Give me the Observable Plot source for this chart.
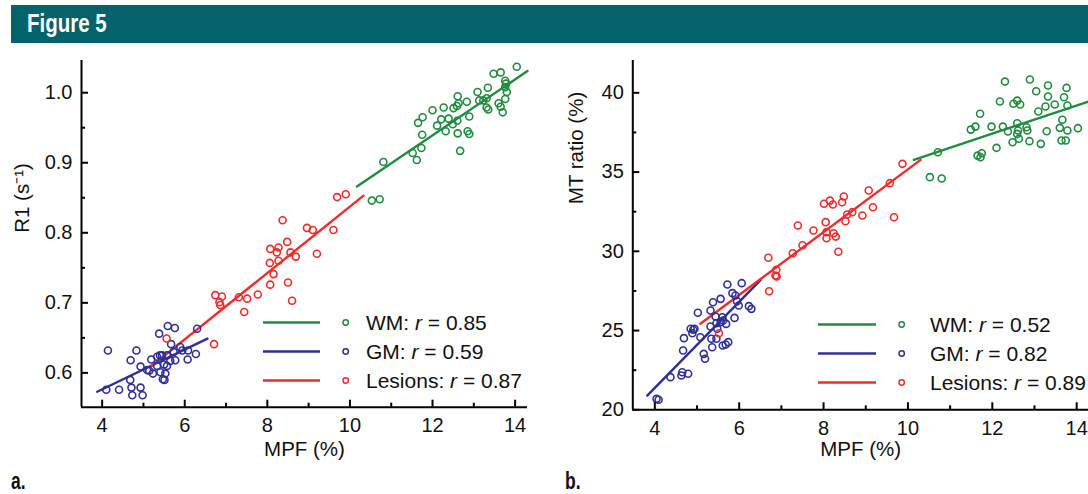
<!DOCTYPE html>
<html><head><meta charset="utf-8">
<script src="https://cdn.jsdelivr.net/npm/d3@7"></script>
<script src="https://cdn.jsdelivr.net/npm/@observablehq/plot@0.6"></script>
<style>
html,body{margin:0;padding:0;background:#fff;}
body{width:1088px;height:494px;overflow:hidden;position:relative;font-family:"Liberation Sans",Arial,sans-serif;}
#bar{position:absolute;left:11px;top:5px;width:1077px;height:38px;background:#03626b;}
#bar span{position:absolute;left:16px;top:6px;color:#fff;font-weight:bold;font-size:25px;line-height:25px;font-family:"Liberation Sans",Arial,sans-serif;transform:scaleX(0.82);transform-origin:0 0;white-space:nowrap;}
.panel{position:absolute;top:50px;}
.plabel{position:absolute;top:470px;font-weight:bold;font-size:23px;line-height:23px;font-family:"Liberation Sans",Arial,sans-serif;transform:scaleX(0.76);transform-origin:0 0;color:#111;}
.row{position:absolute;height:29px;line-height:29px;font-size:21px;white-space:nowrap;color:#111;}
.row svg{position:absolute;left:0;top:0;overflow:visible;}
.row span{position:absolute;top:0;}
</style>
</head><body>
<div id="bar"><span>Figure 5</span></div>
<div id="pa" class="panel" style="left:0px"></div>
<div id="pb" class="panel" style="left:545px"></div>
<div class="plabel" style="left:11px">a.</div>
<div class="plabel" style="left:565px">b.</div>
<script>
// ---------- data ----------
const groups = ["WM", "GM", "Lesions"];
const colors = ["#1f8b3f", "#2f2f99", "#ef2b2b"];
const rA = ["0.85", "0.59", "0.87"];
const rB = ["0.52", "0.82", "0.89"];

// Panel a: MPF (%) vs R1 (s^-1)
const wmR1 = [[10.53,0.846],[10.72,0.848],[10.81,0.901],[11.52,0.914],[11.62,0.904],[11.73,0.921],[11.75,0.940],[11.65,0.957],[11.76,0.965],[12.00,0.975],[12.11,0.953],[12.21,0.962],[12.27,0.979],[12.32,0.945],[12.39,0.963],[12.49,0.955],[12.51,0.978],[12.59,0.981],[12.61,0.995],[12.63,0.985],[12.60,0.960],[12.61,0.942],[12.67,0.917],[12.83,0.987],[12.85,0.945],[12.89,0.941],[12.89,0.966],[13.09,1.001],[13.13,0.989],[13.23,0.989],[13.31,0.992],[13.34,1.007],[13.31,0.979],[13.35,0.976],[13.48,1.027],[13.65,1.029],[13.60,0.985],[13.65,0.980],[13.70,0.972],[13.76,1.017],[13.78,1.013],[13.76,1.008],[13.80,1.001],[13.76,0.991],[14.04,1.037]];
const gmR1 = [[4.14,0.632],[4.10,0.576],[4.41,0.576],[4.69,0.618],[4.83,0.632],[4.68,0.590],[4.71,0.579],[4.93,0.579],[4.73,0.568],[4.98,0.568],[4.93,0.609],[5.09,0.604],[5.19,0.619],[5.14,0.603],[5.23,0.599],[5.38,0.656],[5.59,0.667],[5.76,0.664],[6.30,0.663],[5.33,0.623],[5.45,0.625],[5.33,0.610],[5.41,0.601],[5.53,0.599],[5.47,0.591],[5.51,0.590],[5.57,0.610],[5.65,0.617],[5.67,0.641],[5.73,0.630],[5.77,0.618],[5.89,0.637],[5.94,0.632],[6.08,0.632],[6.07,0.619],[6.27,0.627],[5.57,0.625],[5.50,0.612],[5.40,0.625]];
const lesR1 = [[5.56,0.649],[6.71,0.641],[6.74,0.711],[6.90,0.709],[6.84,0.701],[6.86,0.697],[7.31,0.708],[7.51,0.706],[7.44,0.687],[7.77,0.712],[8.07,0.777],[8.27,0.779],[8.23,0.772],[8.48,0.787],[8.56,0.772],[8.69,0.766],[9.20,0.770],[8.06,0.757],[8.15,0.741],[8.07,0.726],[8.50,0.729],[8.60,0.703],[8.27,0.760],[9.69,0.851],[9.90,0.855],[8.37,0.818],[8.96,0.807],[9.10,0.804],[9.60,0.804]];
const fitR1 = [
  [[10.17,0.866],[14.30,1.031]],
  [[3.88,0.573],[6.55,0.649]],
  [[5.20,0.610],[10.33,0.853]]
];

// Panel b: MPF (%) vs MT ratio (%)
const wmMT = [[10.52,34.68],[10.80,34.59],[10.71,36.25],[11.49,37.68],[11.60,37.87],[11.71,38.68],[11.65,36.04],[11.72,35.94],[11.75,36.19],[11.98,37.87],[12.10,36.53],[12.18,39.45],[12.30,40.71],[12.25,37.87],[12.37,37.56],[12.48,36.88],[12.50,39.31],[12.59,39.51],[12.66,39.26],[12.59,38.08],[12.59,37.41],[12.63,37.10],[12.61,37.62],[12.81,37.83],[12.83,37.62],[12.89,40.84],[12.88,36.95],[13.04,40.10],[13.09,38.82],[13.15,36.78],[13.26,39.14],[13.32,40.46],[13.32,39.77],[13.29,37.58],[13.48,39.26],[13.60,37.79],[13.66,38.30],[13.64,36.99],[13.74,36.99],[13.70,39.72],[13.76,40.31],[13.78,39.20],[13.78,37.62],[14.03,37.77]];
const gmMT = [[4.04,20.69],[4.09,20.63],[4.37,22.06],[4.63,22.16],[4.65,22.37],[4.79,22.27],[4.67,23.74],[4.69,24.52],[4.85,25.11],[4.91,25.05],[4.94,25.11],[4.89,24.83],[5.02,26.12],[5.08,24.58],[5.16,23.53],[5.19,23.22],[5.32,26.27],[5.38,26.79],[5.32,25.26],[5.34,24.48],[5.36,23.95],[5.44,25.89],[5.46,25.46],[5.48,25.11],[5.46,24.48],[5.56,27.00],[5.60,25.84],[5.62,25.63],[5.56,25.53],[5.61,24.06],[5.68,24.12],[5.74,24.27],[5.69,25.42],[5.72,27.91],[5.84,27.36],[5.91,27.21],[5.95,26.85],[5.99,26.58],[5.89,25.80],[6.06,27.99],[6.23,26.54],[6.29,26.37]];
const lesMT = [[5.52,24.83],[6.69,29.59],[6.71,27.48],[6.88,28.83],[6.86,28.47],[6.89,28.41],[7.27,29.88],[7.50,30.38],[7.39,31.63],[7.76,31.31],[8.01,33.00],[8.15,33.20],[8.22,32.95],[8.44,33.10],[8.48,33.46],[8.05,31.84],[8.07,31.21],[8.24,31.14],[8.29,30.93],[8.07,30.83],[8.52,31.90],[8.56,32.32],[8.68,32.47],[8.92,32.26],[9.07,33.84],[9.17,32.78],[9.57,34.30],[9.67,32.15],[9.87,35.52],[8.35,29.97]];
const fitMT = [
  [[10.14,35.77],[14.28,39.45]],
  [[3.82,20.90],[6.51,28.20]],
  [[5.08,25.43],[10.30,35.77]]
];

const xMajor = [4, 6, 8, 10, 12, 14];
const xMinor = [5, 7, 9, 11, 13];
const yMajorA = [0.6, 0.7, 0.8, 0.9, 1.0];
const yMinorA = [0.65, 0.75, 0.85, 0.95];
const yMajorB = [20, 25, 30, 35, 40];
const yMinorB = [22.5, 27.5, 32.5, 37.5];

// ---------- drawing ----------
function panel(o) {
  const H = 420, mt = 10;
  const plotH = H - mt - o.mb;
  const plotW = o.width - o.ml - o.mr;
  const pts = [o.wm, o.gm, o.les];
  const marks = [];
  o.fits.forEach((f, i) => marks.push(Plot.line(f, {x: d => d[0], y: d => d[1], stroke: colors[i], strokeWidth: 2.4})));
  pts.forEach((p, i) => marks.push(Plot.dot(p, {x: d => d[0], y: d => d[1], r: 3.5, stroke: colors[i], strokeWidth: 1.6, fill: "none"})));
  marks.push(Plot.ruleX([o.xd[0]], {stroke: "#000", strokeWidth: 2}));
  marks.push(Plot.ruleY([o.yd[0]], {stroke: "#000", strokeWidth: 2}));
  marks.push(Plot.tickX(xMajor, {x: d => d, insetTop: plotH - 7, stroke: "#000", strokeWidth: 2}));
  marks.push(Plot.tickX(xMinor, {x: d => d, insetTop: plotH - 4, stroke: "#000", strokeWidth: 2}));
  marks.push(Plot.tickY(o.yMajor, {y: d => d, insetRight: plotW - 7, stroke: "#000", strokeWidth: 2}));
  marks.push(Plot.tickY(o.yMinor, {y: d => d, insetRight: plotW - 4, stroke: "#000", strokeWidth: 2}));
  marks.push(Plot.axisX(xMajor, {tickSize: 0, tickPadding: 11, label: null, fontSize: 20, fill: "#111"}));
  marks.push(Plot.axisY(o.yMajor, {tickSize: 0, tickPadding: 9, label: null, tickFormat: o.fmt, fontSize: 20, fill: "#111"}));
  marks.push(Plot.text(["MPF (%)"], {text: d => d, frameAnchor: "bottom", lineAnchor: "middle", dy: o.xlDy, fontSize: 20.5, fill: "#111"}));
  marks.push(Plot.text([o.yLabel], {text: d => d, frameAnchor: "left", lineAnchor: "middle", rotate: -90, dx: o.ylDx, dy: o.ylDy, fontSize: 20.5, fill: "#111"}));
  return Plot.plot({
    width: o.width, height: H,
    marginTop: mt, marginBottom: o.mb, marginLeft: o.ml, marginRight: o.mr,
    x: {domain: o.xd}, y: {domain: o.yd},
    style: {fontFamily: "'Liberation Sans', Arial, sans-serif", fontSize: "20px", background: "transparent", color: "#111"},
    marks
  });
}

document.getElementById("pa").append(panel({
  wm: wmR1, gm: gmR1, les: lesR1, fits: fitR1,
  width: 545, ml: 81, mr: 18, mb: 63.3,
  xd: [3.5, 14.3], yd: [0.551, 1.046],
  yMajor: yMajorA, yMinor: yMinorA, fmt: d3.format(".1f"),
  yLabel: "R1 (s⁻¹)", ylDx: -59, ylDy: -1, xlDy: 42
}));
document.getElementById("pb").append(panel({
  wm: wmMT, gm: gmMT, les: lesMT, fits: fitMT,
  width: 543, ml: 87.3, mr: 0, mb: 60.7,
  xd: [3.478, 14.28], yd: [20, 42.04],
  yMajor: yMajorB, yMinor: yMinorB, fmt: d3.format("d"),
  yLabel: "MT ratio (%)", ylDx: -56, ylDy: -31, xlDy: 39.5
}));

function legend(left, tops, rs, textOff, circOff, lineLen) {
  groups.forEach((g, i) => {
    const row = document.createElement("div");
    row.className = "row";
    row.style.left = left + "px";
    row.style.top = (tops[i] - 14.5) + "px";
    row.innerHTML = `<svg width="${circOff + 5}" height="29"><line x1="0" x2="${lineLen}" y1="14.5" y2="14.5" stroke="${colors[i]}" stroke-width="2.4"/><circle cx="${circOff}" cy="14.5" r="2.7" fill="none" stroke="${colors[i]}" stroke-width="1.5"/></svg><span style="left:${textOff}px">${g}: <i>r</i> = ${rs[i]}</span>`;
    document.body.append(row);
  });
}
legend(263, [322, 351, 380], rA, 103, 82.7, 57);
legend(818, [324, 353.3, 382.3], rB, 112, 83.7, 58);
</script>
</body></html>
